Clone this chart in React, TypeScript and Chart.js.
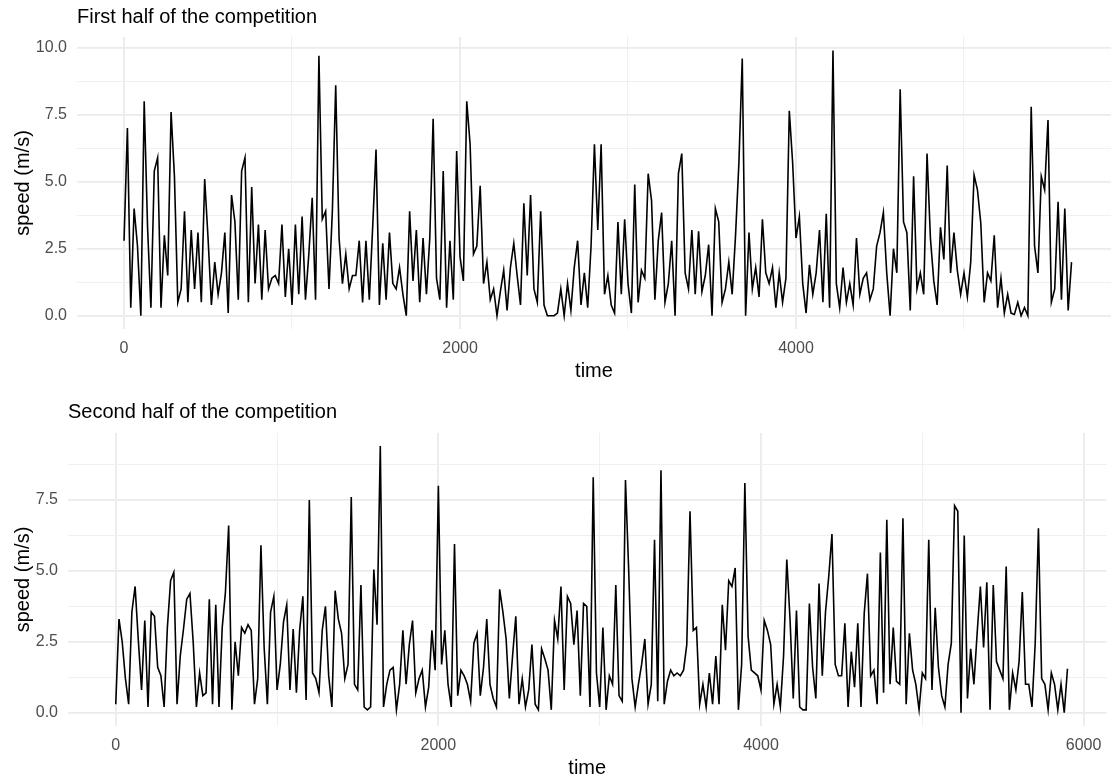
import React, { useEffect, useRef } from "react";
import { Chart, registerables } from "chart.js";

Chart.register(...registerables);

// ---- data (speed in m/s, one reading every TIME_STEP time units) ----
const TIME_STEP = 20;

const firstHalfSpeed = [
  2.8, 7.0, 0.3, 4.0, 2.6, 0.0, 8.0, 3.3, 0.3, 5.4,
  5.9, 0.3, 3.0, 1.5, 7.6, 5.2, 0.5, 1.0, 3.9, 0.5,
  3.2, 1.0, 3.1, 0.5, 5.1, 2.9, 0.4, 2.0, 0.8, 1.6,
  3.1, 0.1, 4.5, 3.5, 0.6, 5.4, 5.9, 0.5, 4.8, 1.2,
  3.4, 0.6, 3.2, 1.0, 1.4, 1.5, 1.2, 3.4, 0.7, 2.5,
  0.4, 3.4, 0.8, 3.7, 0.6, 2.3, 4.4, 0.6, 9.7, 3.6,
  3.9, 1.0, 3.9, 8.6, 2.9, 1.2, 2.3, 1.0, 1.5,
  1.5, 2.8, 0.5, 2.8, 0.6, 3.3, 6.2, 0.4, 2.7, 0.6,
  3.1, 1.2, 1.0, 1.8, 0.8, 0.0, 3.9, 1.3, 3.2, 0.5,
  2.9, 0.8, 2.9, 7.35, 1.4, 0.6, 5.4, 0.3, 2.8, 0.6,
  6.15, 2.2, 1.3, 8.0, 6.4, 2.3, 2.6, 4.85, 1.2, 2.0,
  0.6, 1.0, 0.0, 0.9, 1.7, 0.2, 1.8, 2.7, 1.5, 0.4,
  4.2, 1.5, 4.5, 1.0, 0.5, 3.9, 0.4, 0.0, 0.0, 0.0,
  0.1, 1.0, 0.0, 1.2, 0.2, 1.8, 2.8, 0.4, 1.6, 0.3, 2.6, 6.4,
  3.2, 6.4, 0.8, 1.5, 0.4, 0.1, 3.5, 0.8, 3.6, 1.2,
  0.1, 4.9, 0.5, 1.7, 1.4, 5.3, 4.3, 0.6, 2.8, 3.85,
  0.5, 1.2, 2.8, 0.0, 5.3, 6.05, 1.6, 1.0, 3.2, 0.8,
  3.15, 0.9, 1.5, 2.65, 0.0, 4.0, 3.5, 0.5, 1.0, 2.0,
  0.8, 3.0, 5.7, 9.6, 0.0, 3.1, 1.0, 1.8, 0.7, 3.6,
  1.6, 1.2, 1.8, 0.3, 1.6, 0.5, 1.4, 7.65, 5.7, 2.9,
  3.7, 1.2, 0.1, 1.9, 0.8, 1.6, 3.2, 0.5, 3.8, 0.3, 9.9,
  1.2, 0.3, 1.8, 0.5, 1.2, 0.4, 2.9, 0.8, 1.4, 1.6,
  0.6, 1.0, 2.6, 3.1, 3.85, 1.6, 0.0, 2.5, 1.6, 8.45,
  3.5, 3.1, 0.2, 5.2, 1.0, 1.6, 0.8, 6.05, 2.9, 1.3,
  0.4, 3.3, 2.1, 5.6, 1.6, 3.1, 1.7, 0.8, 1.6, 0.7,
  2.0, 5.25, 4.7, 3.45, 0.5, 1.6, 1.3, 3.0, 0.3, 1.4,
  0.1, 0.8, 0.1, 0.05, 0.5, 0.0, 0.3, 0.0, 7.8, 2.6,
  1.6, 5.2, 4.7, 7.3, 0.5, 1.0, 4.25, 0.6, 4.0, 0.2, 2.0,
];

const secondHalfSpeed = [
  0.3, 3.3, 2.5, 1.2, 0.3, 3.55, 4.45, 2.55, 0.8, 3.25,
  0.2, 3.55, 3.4, 1.6, 1.3, 0.2, 3.0, 4.65, 4.95, 0.3,
  2.0, 2.95, 4.0, 4.2, 2.5, 0.2, 1.4, 0.6, 0.7, 4.0,
  0.3, 3.8, 0.2, 3.0, 4.25, 6.6, 0.1, 2.5, 1.3, 3.0,
  2.8, 3.1, 2.9, 0.3, 1.2, 5.9, 2.3, 0.3, 3.55, 4.1,
  0.8, 1.7, 3.2, 3.8, 0.8, 2.95, 0.7, 2.9, 4.1, 0.45,
  7.5, 1.4, 1.2, 0.7, 2.9, 3.75, 1.3, 0.2, 4.3, 3.3,
  2.8, 1.2, 1.7, 7.6, 1.0, 0.8, 4.5, 0.2, 0.1, 0.2,
  5.05, 3.1, 9.4, 0.2, 1.0, 1.5, 1.6, 0.1, 1.0, 2.9,
  1.0, 2.4, 3.25, 0.7, 1.2, 1.5, 0.2, 0.9, 2.9, 1.5,
  8.0, 1.7, 2.9, 1.0, 0.2, 5.95, 0.6, 1.5, 1.3, 1.0,
  0.4, 2.45, 2.8, 0.6, 1.6, 3.3, 1.0, 0.5, 0.2, 4.35,
  3.55, 2.6, 0.5, 2.0, 3.4, 0.3, 1.2, 0.2, 0.8, 2.4,
  0.3, 0.1, 2.25, 1.9, 1.5, 0.1, 3.25, 2.6, 4.45, 0.8,
  4.1, 3.85, 2.4, 3.6, 0.6, 3.85, 3.75, 0.2, 8.3, 1.4,
  0.2, 3.0, 0.1, 1.3, 1.0, 4.5, 0.6, 0.4, 8.2, 5.0,
  1.2, 0.2, 1.0, 1.7, 2.6, 0.3, 1.0, 6.1, 0.4, 8.55,
  0.3, 1.1, 1.5, 1.3, 1.4, 1.3, 1.5, 2.4, 7.1, 2.9,
  3.0, 0.3, 1.0, 0.2, 1.4, 0.3, 2.0, 0.3, 3.8, 2.2,
  4.65, 4.45, 5.1, 0.1, 1.7, 8.1, 2.7, 1.5, 1.4, 1.3,
  0.8, 3.25, 2.9, 2.4, 0.3, 1.0, 0.2, 2.0, 5.4, 3.3,
  0.5, 3.6, 0.2, 0.1, 0.1, 3.85, 1.6, 0.5, 4.55, 1.3,
  3.55, 4.8, 6.3, 1.7, 1.3, 1.3, 3.15, 0.2, 2.15, 0.9,
  3.15, 0.2, 3.5, 4.9, 1.3, 1.5, 0.3, 5.65, 0.7, 6.8,
  1.0, 3.0, 1.1, 1.0, 6.85, 0.3, 2.8, 1.5, 1.0, 0.1,
  1.4, 1.2, 6.1, 0.8, 3.7, 1.6, 0.6, 0.2, 1.7, 2.45,
  7.3, 7.1, 0.0, 6.25, 0.5, 2.25, 1.0, 2.8, 4.45, 2.3,
  4.6, 0.1, 4.5, 1.8, 1.5, 1.2, 5.15, 0.1, 1.4, 0.8,
  1.8, 4.25, 1.0, 1.0, 0.2, 2.45, 6.5, 1.2, 1.0, 0.1,
  1.4, 1.0, 0.1, 1.0, 0.0, 1.55,
];

const firstHalfTimeTicks = [0, 1000, 2000, 3000, 4000, 5000];
const secondHalfTimeTicks = [0, 1000, 2000, 3000, 4000, 5000, 6000];
const firstHalfSpeedTicks = [0, 1.25, 2.5, 3.75, 5, 6.25, 7.5, 8.75, 10];
const secondHalfSpeedTicks = [0, 1.25, 2.5, 3.75, 5, 6.25, 7.5, 8.75];

const panelTitles = ["First half of the competition", "Second half of the competition"];
const xAxisTitle = "time";
const yAxisTitle = "speed (m/s)";

const FONT = '"Liberation Sans", Arial, Helvetica, sans-serif';

type PanelProps = {
  title: string;
  speeds: number[];
  timeTicks: number[];
  speedTicks: number[];
  xMin: number;
  xMax: number;
  yMin: number;
  yMax: number;
  yAxisWidth: number;
  titlePad: { top: number; bottom: number };
  xAxisHeight: number;
  xTickPad: number;
  xTitlePadBottom: number;
  top: number;
};

function Panel(p: PanelProps) {
  const ref = useRef<HTMLCanvasElement | null>(null);
  useEffect(() => {
    if (!ref.current) return;
    const isMajorX = (v: number) => v % 2000 === 0;
    const isMajorY = (v: number) => v % 2.5 === 0;
    const chart = new Chart(ref.current, {
      type: "line",
      data: {
        datasets: [
          {
            data: p.speeds.map((v, i) => ({ x: i * TIME_STEP, y: v })),
            borderColor: "#000000",
            borderWidth: 1.6,
            pointRadius: 0,
            tension: 0,
            borderJoinStyle: "miter",
            fill: false,
          },
        ],
      },
      options: {
        animation: false,
        responsive: true,
        maintainAspectRatio: false,
        events: [],
        layout: { padding: 0 },
        plugins: {
          legend: { display: false },
          tooltip: { enabled: false },
          title: {
            display: true,
            text: p.title,
            align: "start",
            fullSize: false,
            color: "#000000",
            font: { family: FONT, size: 20, weight: "normal", lineHeight: 1.2 },
            padding: p.titlePad,
          },
        },
        scales: {
          x: {
            type: "linear",
            min: p.xMin,
            max: p.xMax,
            afterBuildTicks: (scale: any) => {
              scale.ticks = p.timeTicks.map((v) => ({ value: v }));
            },
            afterFit: (scale: any) => {
              scale.height = p.xAxisHeight;
            },
            border: { display: false },
            grid: {
              drawTicks: false,
              color: (ctx: any) => (ctx.tick && isMajorX(ctx.tick.value) ? "#EBEBEB" : "#F0F0F0"),
              lineWidth: (ctx: any) => (ctx.tick && isMajorX(ctx.tick.value) ? 1.8 : 1.1),
            },
            ticks: {
              autoSkip: false,
              maxRotation: 0,
              minRotation: 0,
              padding: p.xTickPad,
              color: "#4D4D4D",
              font: { family: FONT, size: 16 },
              callback: (v: any) => (isMajorX(Number(v)) ? String(v) : ""),
            },
            title: {
              display: true,
              text: xAxisTitle,
              color: "#000000",
              font: { family: FONT, size: 20 },
              padding: { top: 0, bottom: p.xTitlePadBottom },
            },
          },
          y: {
            type: "linear",
            min: p.yMin,
            max: p.yMax,
            afterBuildTicks: (scale: any) => {
              scale.ticks = p.speedTicks.map((v) => ({ value: v }));
            },
            afterFit: (scale: any) => {
              scale.width = p.yAxisWidth;
            },
            border: { display: false },
            grid: {
              drawTicks: false,
              color: (ctx: any) => (ctx.tick && isMajorY(ctx.tick.value) ? "#EBEBEB" : "#F0F0F0"),
              lineWidth: (ctx: any) => (ctx.tick && isMajorY(ctx.tick.value) ? 1.8 : 1.1),
            },
            ticks: {
              autoSkip: false,
              padding: 10,
              color: "#4D4D4D",
              font: { family: FONT, size: 16 },
              callback: (v: any) => (isMajorY(Number(v)) ? Number(v).toFixed(1) : ""),
            },
            title: {
              display: true,
              text: yAxisTitle,
              color: "#000000",
              font: { family: FONT, size: 20 },
              padding: { top: 11, bottom: 0 },
            },
          },
        },
      } as any,
    });
    return () => chart.destroy();
  }, []);
  return (
    <div style={{ position: "absolute", left: 0, top: p.top, width: 1111, height: 390 }}>
      <canvas ref={ref} />
    </div>
  );
}

export default function App() {
  return (
    <div style={{ position: "absolute", left: 0, top: 0, width: 1111, height: 780, background: "#ffffff" }}>
      <Panel
        title={panelTitles[0]}
        speeds={firstHalfSpeed}
        timeTicks={firstHalfTimeTicks}
        speedTicks={firstHalfSpeedTicks}
        xMin={-280}
        xMax={5875}
        yMin={-0.495}
        yMax={10.4}
        yAxisWidth={77}
        titlePad={{ top: 5, bottom: 8 }}
        xAxisHeight={61}
        xTickPad={10}
        xTitlePadBottom={7}
        top={0}
      />
      <Panel
        title={panelTitles[1]}
        speeds={secondHalfSpeed}
        timeTicks={secondHalfTimeTicks}
        speedTicks={secondHalfSpeedTicks}
        xMin={-296}
        xMax={6142}
        yMin={-0.47}
        yMax={9.86}
        yAxisWidth={68}
        titlePad={{ top: 10, bottom: 9 }}
        xAxisHeight={54}
        xTickPad={9.5}
        xTitlePadBottom={0}
        top={390}
      />
    </div>
  );
}
